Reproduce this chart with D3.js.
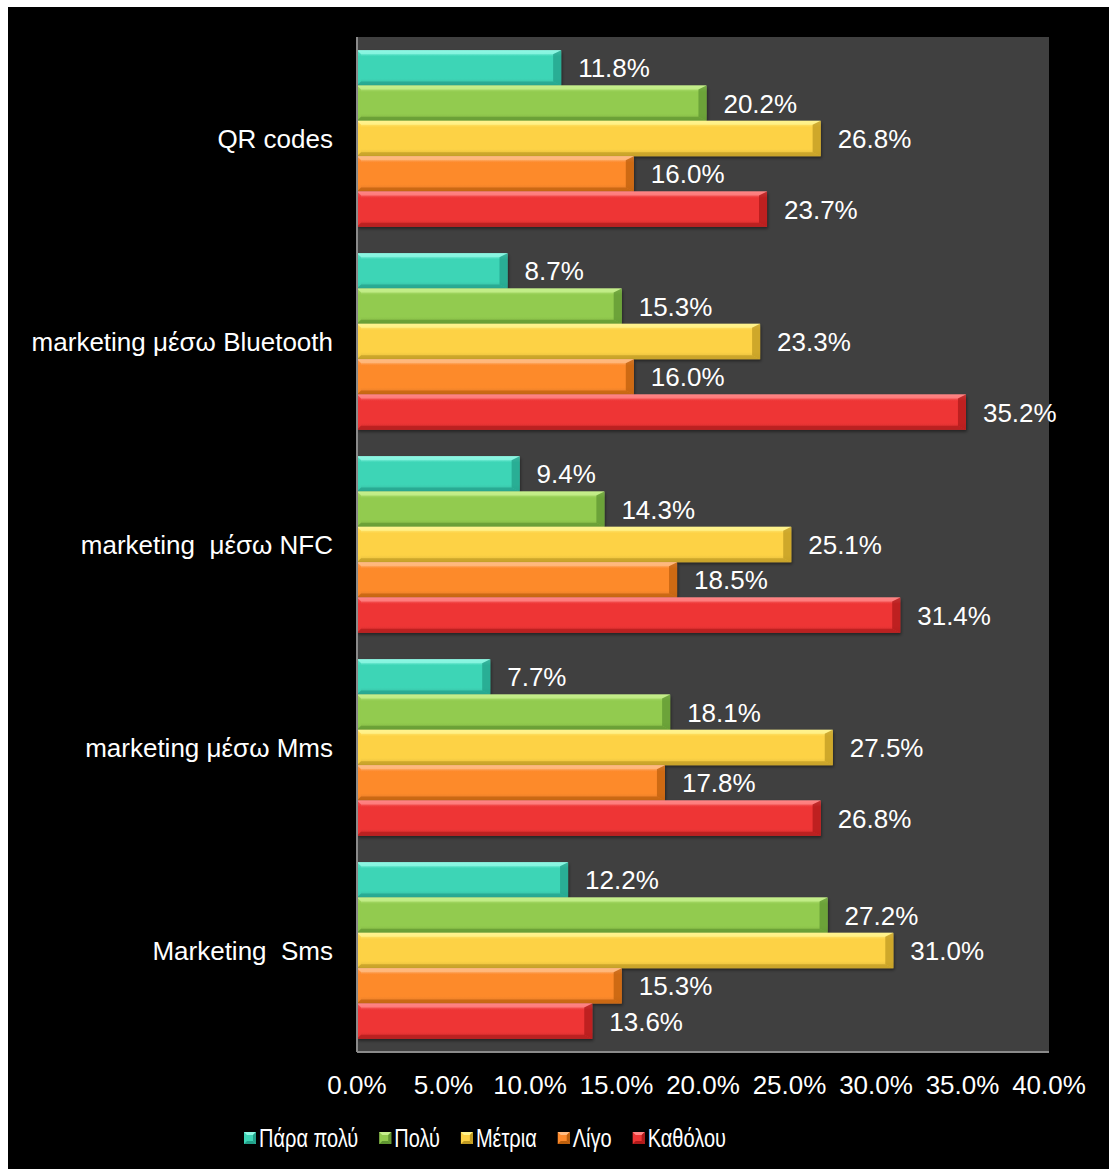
<!DOCTYPE html>
<html>
<head>
<meta charset="utf-8">
<script src="https://cdn.jsdelivr.net/npm/d3@7"></script>
<style>
  html, body { margin: 0; padding: 0; background: #ffffff; }
  svg { display: block; }
  text { font-family: "Liberation Sans", Arial, sans-serif; fill: #ffffff; white-space: pre; }
</style>
</head>
<body>
<svg id="chart" width="1110" height="1169"></svg>
<script>
// Channels, top to bottom in the chart
const categories = ["QR codes", "marketing μέσω Bluetooth", "marketing  μέσω NFC", "marketing μέσω Mms", "Marketing  Sms"];
// Answer levels (series)
const series = ["Πάρα πολύ", "Πολύ", "Μέτρια", "Λίγο", "Καθόλου"];
// Percentages per series, in category order
const paraPoly = [11.8, 8.7, 9.4, 7.7, 12.2];
const poly     = [20.2, 15.3, 14.3, 18.1, 27.2];
const metria   = [26.8, 23.3, 25.1, 27.5, 31.0];
const ligo     = [16.0, 16.0, 18.5, 17.8, 15.3];
const katholou = [23.7, 35.2, 31.4, 26.8, 13.6];
const xTicks = [0, 5, 10, 15, 20, 25, 30, 35, 40];

const seriesValues = [paraPoly, poly, metria, ligo, katholou];
const palette = [
  { base: "#3dd5b6", light: "#8ef7e3", dark: "#23a08a" },
  { base: "#92cb4f", light: "#c6ef8c", dark: "#5f9531" },
  { base: "#fdd245", light: "#fff48e", dark: "#bf9a22" },
  { base: "#fd8a2c", light: "#ffbb82", dark: "#bd5f0c" },
  { base: "#ee3535", light: "#ff8585", dark: "#ae1a1a" }
];

const rows = [];
categories.forEach((c, ci) => {
  series.forEach((s, si) => rows.push({ cat: c, ser: s, si, value: seriesValues[si][ci] }));
});

const svg = d3.select("#chart");
const W = 1110, H = 1169;
const FS = 26;

// black canvas inside a thin white frame
svg.append("rect").attr("x", 8).attr("y", 7).attr("width", W - 9).attr("height", H - 7).attr("fill", "#000");

const plot = { left: 357, right: 1049, top: 37, bottom: 1052 };

const x = d3.scaleLinear().domain([0, 40]).range([plot.left, plot.right]);
const y0 = d3.scaleBand().domain(categories).range([plot.top, plot.bottom]).paddingInner(0.13).paddingOuter(0.065);
const y1 = d3.scaleBand().domain(series).range([0, y0.bandwidth()]);

// gradients & shadow
const defs = svg.append("defs");
palette.forEach((p, i) => {
  const g = defs.append("linearGradient").attr("id", "g" + i).attr("x1", 0).attr("y1", 0).attr("x2", 0).attr("y2", 1);
  g.append("stop").attr("offset", "0%").attr("stop-color", p.light);
  g.append("stop").attr("offset", "18%").attr("stop-color", p.base);
  g.append("stop").attr("offset", "80%").attr("stop-color", p.base);
  g.append("stop").attr("offset", "100%").attr("stop-color", d3.color(p.base).darker(0.35));
});
const f = defs.append("filter").attr("id", "shadow").attr("x", "-5%").attr("y", "-20%").attr("width", "110%").attr("height", "160%");
f.append("feDropShadow").attr("dx", 1).attr("dy", 2).attr("stdDeviation", 1.5).attr("flood-color", "#000").attr("flood-opacity", 0.45);

// plot area
svg.append("rect")
  .attr("x", plot.left).attr("y", plot.top)
  .attr("width", plot.right - plot.left).attr("height", plot.bottom - plot.top)
  .attr("fill", "#404040");

// bars with bevelled edges
const bars = svg.append("g").selectAll("g.bar").data(rows).join("g").attr("class", "bar");
bars.each(function (d) {
  const g = d3.select(this);
  const p = palette[d.si];
  const bx = x(0), ex = x(d.value);
  const by = y0(d.cat) + y1(d.ser), bh = y1.bandwidth();
  const ey = by + bh;
  const t = 4, r = 8;
  g.append("rect").attr("x", bx).attr("y", by).attr("width", ex - bx).attr("height", bh)
    .attr("fill", `url(#g${d.si})`).attr("filter", "url(#shadow)");
  // top bevel
  g.append("polygon").attr("points", [[bx, by], [ex, by], [ex - r, by + t], [bx + t, by + t]].join(" "))
    .attr("fill", p.light).attr("opacity", 0.8);
  // left bevel
  g.append("polygon").attr("points", [[bx, by], [bx + t, by + t], [bx + t, ey - t], [bx, ey]].join(" "))
    .attr("fill", p.base).attr("opacity", 0.6);
  // bottom bevel
  g.append("polygon").attr("points", [[bx, ey], [bx + t, ey - t], [ex - r, ey - t], [ex, ey]].join(" "))
    .attr("fill", p.dark).attr("opacity", 0.7);
  // right bevel
  g.append("polygon").attr("points", [[ex, by], [ex, ey], [ex - r, ey - t], [ex - r, by + t]].join(" "))
    .attr("fill", p.dark).attr("opacity", 0.75);
  // value label
  g.append("text").attr("x", ex + 17).attr("y", by + bh / 2).attr("dy", "0.36em")
    .attr("font-size", FS).text(d.value.toFixed(1) + "%");
});

// axes lines
svg.append("line").attr("x1", plot.left).attr("x2", plot.left).attr("y1", plot.top).attr("y2", plot.bottom)
  .attr("stroke", "#8a8a8a").attr("stroke-width", 2);
svg.append("line").attr("x1", plot.left).attr("x2", plot.right).attr("y1", plot.bottom).attr("y2", plot.bottom)
  .attr("stroke", "#8a8a8a").attr("stroke-width", 2);

// category labels
svg.append("g").selectAll("text").data(categories).join("text")
  .attr("x", 333).attr("y", d => y0(d) + y0.bandwidth() / 2).attr("dy", "0.36em")
  .attr("text-anchor", "end").attr("font-size", FS).text(d => d);

// x tick labels
svg.append("g").selectAll("text").data(xTicks).join("text")
  .attr("x", d => x(d)).attr("y", 1085).attr("dy", "0.36em")
  .attr("text-anchor", "middle").attr("font-size", FS).text(d => d.toFixed(1) + "%");

// legend (condensed text)
const legend = svg.append("g").attr("transform", "translate(244,1138)");
let lx = 0;
series.forEach((s, i) => {
  const p = palette[i];
  const item = legend.append("g").attr("transform", `translate(${lx},0)`);
  item.append("rect").attr("x", 0).attr("y", -6).attr("width", 12).attr("height", 12).attr("fill", p.base);
  item.append("polygon").attr("points", "0,-6 12,-6 9,-3 3,-3").attr("fill", p.light);
  item.append("polygon").attr("points", "0,6 12,6 9,3 3,3").attr("fill", p.dark);
  item.append("polygon").attr("points", "12,-6 12,6 9,3 9,-3").attr("fill", p.dark);
  const t = item.append("text").attr("x", 15).attr("y", 0).attr("dy", "0.36em").attr("font-size", 25).text(s);
  const w = t.node().getComputedTextLength() * 0.8;
  t.attr("textLength", w).attr("lengthAdjust", "spacingAndGlyphs");
  lx += 15 + w + 21;
});
</script>
</body>
</html>
